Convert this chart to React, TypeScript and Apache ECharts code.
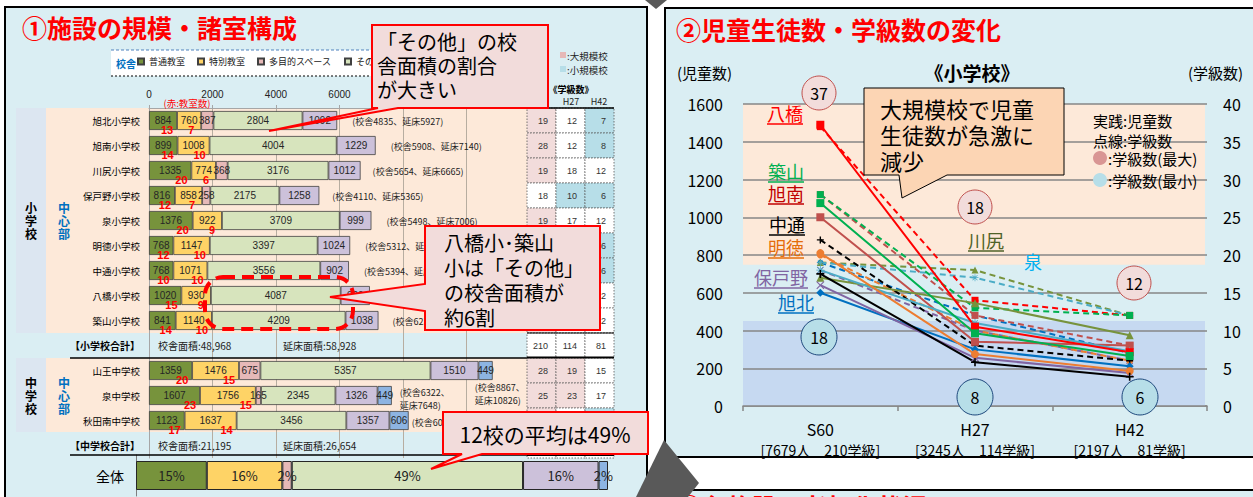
import React, { useEffect, useRef } from 'react';
import * as echarts from 'echarts';

const FONT = '"Noto Sans CJK JP", "Noto Sans", sans-serif';
const NUM_FONT = '"Liberation Sans", Arial, sans-serif';

// ---------- ① 施設の規模・諸室構成 ----------
const rowLabels = ['旭北小学校', '旭南小学校', '川尻小学校', '保戸野小学校', '泉小学校', '明徳小学校', '中通小学校', '八橋小学校', '築山小学校', '【小学校合計】', '山王中学校', '泉中学校', '秋田南中学校', '【中学校合計】'];
const roomTypes = ['普通教室', '特別教室', '多目的スペース', 'その他', '体育館', '武道場'];
const ordinaryRooms = [884, 899, 1335, 816, 1376, 768, 768, 1020, 841, null, 1359, 1607, 1123, null];
const specialRooms = [760, 1008, 774, 858, 922, 1147, 1071, 930, 1140, null, 1476, 1756, 1637, null];
const multiPurpose = [387, 0, 368, 258, 0, 0, 0, 0, 0, null, 675, 165, 0, null];
const otherRooms = [2804, 4004, 3176, 2175, 3709, 3397, 3556, 4087, 4209, null, 5357, 2345, 3456, null];
const gymArea = [1092, 1229, 1012, 1258, 999, 1024, 902, 920, 1038, null, 1510, 1326, 1357, null];
const budoArea = [0, 0, 0, 0, 0, 0, 0, 0, 0, null, 449, 449, 606, null];
const ordinaryCount = [13, 14, 20, 12, 20, 12, 10, 15, 14, null, 20, 23, 17, null];
const specialCount = [7, 10, 6, 7, 9, 10, 10, 9, 10, null, 15, 15, 14, null];
const schoolArea = [4835, 5908, 5654, 4110, 5498, 5312, 5394, 6037, 6231, 48968, 8867, 6322, 6006, 21195];
const floorArea = [5927, 7140, 6665, 5365, 7006, 6336, 6297, 6957, 7269, 58928, 10826, 7648, 8179, 26654];
const classesS60 = [19, 28, 19, 18, 19, 20, 22, 37, 28, 210, 28, 25, 22, 75];
const classesH27 = [12, 12, 18, 10, 17, 10, 8, 14, 13, 114, 19, 23, 18, 60];
const classesH42 = [7, 8, 12, 6, 12, 6, 6, 12, 12, 81, 15, 17, 11, 43];
const overallShare = [15, 16, 2, 49, 16, 2];

// ---------- ② 児童生徒数・学級数の変化 ----------
const surveyYears = ['S60', 'H27', 'H42'];
const yearSummary = ['[7679人　210学級]', '[3245人　114学級]', '[2197人　81学級]'];
const elemNames = ['旭北', '旭南', '川尻', '保戸野', '泉', '明徳', '中通', '八橋', '築山'];
const pupilsAsahikita = [600, 300, 210];
const pupilsAsahiminami = [1000, 340, 320];
const pupilsKawajiri = [680, 545, 375];
const pupilsHodono = [640, 255, 175];
const pupilsIzumi = [720, 440, 290];
const pupilsMeitoku = [810, 275, 185];
const pupilsNakadori = [700, 232, 155];
const pupilsYabase = [1490, 420, 285];
const pupilsTsukiyama = [1075, 385, 265];
const largeScaleBand = [18.7, 40];
const smallScaleBand = [0, 11.25];

// ---------- styles ----------
const roomColors = ['#77933c', '#fed366', '#e6b9b8', '#d7e4bd', '#ccc1da', '#8db4e2'];
const lineColors = ['#0070c0', '#c0504d', '#77933c', '#8064a2', '#4bacc6', '#ed7d31', '#000000', '#ff0000', '#00b050'];
const labelColors = ['#0070c0', '#c00000', '#4f6228', '#8064a2', '#00b0f0', '#e46c0a', '#000000', '#ff0000', '#00b050'];
const SYM_X = 'path://M1,0L5,4L9,0L10,1L6,5L10,9L9,10L5,6L1,10L0,9L4,5L0,1Z';
const SYM_PLUS = 'path://M4,0H6V4H10V6H6V10H4V6H0V4H4Z';
const SYM_STAR = 'path://M4.5,0H5.5V3.8L8.2,1.1L8.9,1.8L6.2,4.5H10V5.5H6.2L8.9,8.2L8.2,8.9L5.5,6.2V10H4.5V6.2L1.8,8.9L1.1,8.2L3.8,5.5H0V4.5H3.8L1.1,1.8L1.8,1.1L4.5,3.8Z';
const SYM_DASH = 'path://M0,4H10V6H0Z';
const symbols = ['diamond', 'rect', 'triangle', SYM_X, SYM_STAR, 'circle', SYM_PLUS, SYM_DASH, 'rect'];
const PANEL = '#daeef3';
const PEACH = '#fde9d9';
const SIDE = '#dce6f1';
const tableX = [527, 556, 585, 614];
const annoDx = [15, 15, 12, 13, 15, 15, 15, 15, 14, 0, -18, 8, 3, 0];
const annoDy = [1, 1, 1, 1, 1, 1, 1, 1, 1, 0, 23, 3.5, 1.5, 0];
const annoWrap = [false, false, false, false, false, false, false, false, false, false, true, true, false, false];

const fmt = (n: number) => n.toLocaleString('en-US');

function txt(x: number, y: number, text: string, size: number, fill = '#000', opts: any = {}) {
  const align = opts.align || 'left';
  return {
    type: 'text', x, y, z: opts.z ?? 30, silent: true,
    style: {
      text, fill,
      font: `${opts.bold ? 'bold ' : ''}${size}px ${FONT}`,
      align, textAlign: align, verticalAlign: 'middle', textVerticalAlign: 'middle',
      lineHeight: opts.lineHeight,
    },
  };
}
function rect(x: number, y: number, w: number, h: number, fill: string, z = -8, extra: any = {}) {
  return { type: 'rect', z, silent: true, shape: { x, y, width: w, height: h, r: extra.r || 0 }, style: { fill, stroke: extra.stroke || null, lineWidth: extra.lineWidth || 0, lineDash: extra.lineDash } };
}
function line(x1: number, y1: number, x2: number, y2: number, stroke: string, lw = 1, z = 20, dash?: number[]) {
  return { type: 'line', z, silent: true, shape: { x1, y1, x2, y2 }, style: { stroke, lineWidth: lw, lineDash: dash } };
}
function poly(points: number[][], fill: string, stroke: string | null, lw = 0, z = 50) {
  return { type: 'polygon', z, silent: true, shape: { points }, style: { fill, stroke, lineWidth: lw } };
}

function buildOption() {
  const areaArrays = [ordinaryRooms, specialRooms, multiPurpose, otherRooms, gymArea, budoArea];
  const series: any[] = [];

  // stacked area bars
  areaArrays.forEach((arr, k) => {
    series.push({
      type: 'bar', name: roomTypes[k], stack: 'area', xAxisIndex: 0, yAxisIndex: 0, barWidth: 19, z: 3,
      data: arr.map((v) => (v ? v : null)),
      itemStyle: { color: roomColors[k], borderColor: '#404040', borderWidth: 0.8 },
      label: { show: true, position: 'inside', fontSize: 10, color: '#262626', fontFamily: NUM_FONT },
    });
  });

  // red class-room counts
  const countItems: number[][] = [];
  rowLabels.forEach((_, i) => {
    if (ordinaryRooms[i] == null) return;
    countItems.push([ordinaryRooms[i] as number, i, ordinaryCount[i] as number]);
    countItems.push([(ordinaryRooms[i] as number) + (specialRooms[i] as number), i, specialCount[i] as number]);
  });
  series.push({
    type: 'custom', xAxisIndex: 0, yAxisIndex: 0, z: 6, silent: true, data: countItems,
    renderItem: (params: any, api: any) => {
      const p = api.coord([api.value(0), api.value(1)]);
      return {
        type: 'text', x: p[0] - 10, y: p[1] + 9,
        style: { text: String(api.value(2)), fill: '#ff0000', font: `bold 11px ${NUM_FONT}`, align: 'center', textAlign: 'center', verticalAlign: 'middle', textVerticalAlign: 'middle' },
      };
    },
  });

  // area annotations
  const annoItems = rowLabels.map((_, i) => {
    const end = areaArrays.reduce((s, arr) => s + ((arr[i] as number) || 0), 0);
    return [end, i];
  });
  series.push({
    type: 'custom', xAxisIndex: 0, yAxisIndex: 0, z: 6, silent: true, data: annoItems,
    renderItem: (params: any, api: any) => {
      const row = api.value(1);
      const p = api.coord([api.value(0), row]);
      const base = { fill: '#222', align: 'left', textAlign: 'left', verticalAlign: 'middle', textVerticalAlign: 'middle' };
      if (ordinaryRooms[row] == null) {
        return {
          type: 'group', children: [
            { type: 'text', x: p[0] + 9, y: p[1], style: { ...base, text: `校舎面積:${fmt(schoolArea[row])}`, font: `10px ${FONT}` } },
            { type: 'text', x: p[0] + 134, y: p[1], style: { ...base, text: `延床面積:${fmt(floorArea[row])}`, font: `10px ${FONT}` } },
          ],
        };
      }
      const t = annoWrap[row]
        ? `(校舎${schoolArea[row]}、\n延床${floorArea[row]})`
        : `(校舎${schoolArea[row]}、延床${floorArea[row]})`;
      return { type: 'text', x: p[0] + annoDx[row], y: p[1] + annoDy[row], style: { ...base, text: t, font: `9px ${FONT}`, lineHeight: 13 } };
    },
  });

  // class table
  series.push({
    type: 'custom', xAxisIndex: 0, yAxisIndex: 0, z: 7, silent: true,
    data: rowLabels.map((_, i) => [0, i, classesS60[i], classesH27[i], classesH42[i]]),
    renderItem: (params: any, api: any) => {
      const row = api.value(1);
      const c = api.coord([0, row]);
      const h = api.size([0, 1])[1];
      const top = c[1] - h / 2;
      const isTotal = ordinaryRooms[row] == null;
      const children: any[] = [];
      for (let k = 0; k < 3; k++) {
        const v = api.value(2 + k);
        const fill = isTotal ? '#ffffff' : v >= 19 ? '#f2dcdb' : v <= 11 ? '#b7dee8' : '#ffffff';
        children.push({ type: 'rect', shape: { x: tableX[k], y: top, width: tableX[k + 1] - tableX[k], height: h }, style: { fill, stroke: '#555', lineWidth: 0.8, lineDash: [1.5, 1.5] } });
        children.push({ type: 'text', x: tableX[k + 1] - 8, y: c[1], style: { text: String(v), fill: '#333', font: `9px ${NUM_FONT}`, align: 'right', textAlign: 'right', verticalAlign: 'middle', textVerticalAlign: 'middle' } });
      }
      return { type: 'group', children };
    },
  });

  // overall bar
  overallShare.forEach((v, k) => {
    series.push({
      type: 'bar', name: roomTypes[k], stack: 'overall', xAxisIndex: 1, yAxisIndex: 1, barWidth: 29, z: 3,
      data: [v],
      itemStyle: { color: roomColors[k], borderColor: '#262626', borderWidth: 1 },
      label: { show: true, position: 'inside', formatter: '{c}%', fontSize: 13, color: '#222', fontFamily: FONT },
    });
  });

  // bands behind line chart
  series.push({
    type: 'custom', xAxisIndex: 2, yAxisIndex: 3, z: 1, silent: true,
    data: [[0, largeScaleBand[0], largeScaleBand[1], 0], [0, smallScaleBand[0], smallScaleBand[1], 1]],
    renderItem: (params: any, api: any) => {
      const cs = params.coordSys;
      const a = api.coord([0, api.value(1)]);
      const b = api.coord([0, api.value(2)]);
      return { type: 'rect', shape: { x: cs.x, y: b[1], width: cs.width - 2, height: a[1] - b[1] }, style: { fill: api.value(3) ? '#c6d9f1' : PEACH } };
    },
  });

  const pupils = [pupilsAsahikita, pupilsAsahiminami, pupilsKawajiri, pupilsHodono, pupilsIzumi, pupilsMeitoku, pupilsNakadori, pupilsYabase, pupilsTsukiyama];
  elemNames.forEach((n, i) => {
    const color = lineColors[i];
    series.push({
      type: 'line', name: `${n}学級数`, xAxisIndex: 2, yAxisIndex: 3, z: 4,
      data: [classesS60[i], classesH27[i], classesH42[i]],
      symbol: symbols[i], symbolSize: 7,
      lineStyle: { color, width: 2, type: [6, 4] }, itemStyle: { color },
    });
  });
  elemNames.forEach((n, i) => {
    const color = lineColors[i];
    series.push({
      type: 'line', name: `${n}児童数`, xAxisIndex: 2, yAxisIndex: 2, z: 5,
      data: pupils[i],
      symbol: symbols[i], symbolSize: 8,
      lineStyle: { color, width: 2 }, itemStyle: { color },
    });
  });

  // ---------- graphics ----------
  const g: any[] = [];
  g.push(rect(5, 7, 642, 500, PANEL, -10, { stroke: '#000', lineWidth: 2 }));
  g.push(rect(665, 8, 600, 449, PANEL, -10, { stroke: '#000', lineWidth: 2 }));
  g.push(rect(665, 490, 600, 30, PANEL, -10, { stroke: '#000', lineWidth: 2 }));
  g.push(poly([[645, 0], [667, 0], [656, 9]], '#595959', null, 0, 60));
  g.push(poly([[636, 497], [664, 440], [699, 483], [688, 497]], '#595959', null, 0, 60));

  // left panel
  g.push(txt(22, 27, '①施設の規模・諸室構成', 25, '#ff0000', { bold: true }));
  g.push(rect(111, 50, 262, 26, '#ffffff', -6));
  g.push(line(111, 50, 373, 50, '#4f81bd', 1, -5, [3, 2]));
  g.push(line(111, 76, 373, 76, '#000', 1, -5, [2, 2]));
  g.push(txt(116, 63, '校舎', 10, '#0070c0', { bold: true }));
  g.push(rect(46, 108, 481, 225, PEACH));
  g.push(rect(46, 358, 481, 74, PEACH));
  g.push(rect(16, 108, 30, 225, SIDE));
  g.push(rect(16, 358, 30, 74, SIDE));
  g.push(txt(31, 220, '小\n学\n校', 12, '#000', { bold: true, align: 'center', lineHeight: 13 }));
  g.push(txt(64, 220, '中\n心\n部', 12, '#0070c0', { bold: true, align: 'center', lineHeight: 13 }));
  g.push(txt(31, 395, '中\n学\n校', 12, '#000', { bold: true, align: 'center', lineHeight: 13 }));
  g.push(txt(64, 395, '中\n心\n部', 12, '#0070c0', { bold: true, align: 'center', lineHeight: 13 }));
  g.push(txt(187, 103, '(赤:教室数)', 9.5, '#ff0000', { align: 'center' }));
  g.push(line(70, 358, 527, 358, '#000', 1.5));
  g.push(line(70, 455, 527, 455, '#000', 1.5));
  // table header & legend
  g.push(rect(560, 52, 6, 6, '#e6b8b7', 20));
  g.push(txt(567, 56, ':大規模校', 9.5, '#222'));
  g.push(rect(560, 66, 6, 6, '#b7dee8', 20));
  g.push(txt(567, 70, ':小規模校', 9.5, '#222'));
  g.push(txt(571, 89, '《学級数》', 9, '#000', { bold: true, align: 'center' }));
  g.push(txt(541, 101, 'S60', 9, '#222', { align: 'center' }));
  g.push(txt(571, 101, 'H27', 9, '#222', { align: 'center' }));
  g.push(txt(599, 101, 'H42', 9, '#222', { align: 'center' }));
  g.push(line(527, 108, 614, 108, '#000', 1.5));
  g.push(line(527, 333, 614, 333, '#000', 1));
  g.push(line(527, 357.5, 614, 357.5, '#000', 2));
  g.push(line(527, 455, 614, 455, '#000', 2));
  // dashed highlight
  g.push({ type: 'rect', z: 40, silent: true, shape: { x: 205, y: 277, width: 148, height: 52, r: 18 }, style: { fill: 'none', stroke: '#ff0000', lineWidth: 4, lineDash: [12, 7] } });
  // callouts
  g.push(poly([[372, 25], [548, 25], [548, 108], [398, 108], [269, 131], [378, 108], [372, 108]], '#f2dcdb', '#ff0000', 2));
  g.push(txt(377, 41, '「その他」の校', 20, '#000', { z: 55 }));
  g.push(txt(377, 65, '舎面積の割合', 20, '#000', { z: 55 }));
  g.push(txt(377, 89, 'が大きい', 20, '#000', { z: 55 }));
  g.push(poly([[425, 226], [600, 226], [600, 330], [425, 330], [425, 311], [330, 297], [425, 284]], '#f2dcdb', '#ff0000', 2));
  g.push(txt(444, 242, '八橋小･築山', 20, '#000', { z: 55 }));
  g.push(txt(444, 267, '小は「その他」', 20, '#000', { z: 55 }));
  g.push(txt(444, 292, 'の校舎面積が', 20, '#000', { z: 55 }));
  g.push(txt(444, 317, '約6割', 20, '#000', { z: 55 }));
  g.push(poly([[443, 412], [648, 412], [648, 454], [482, 454], [431, 469], [462, 454], [443, 454]], '#f2dcdb', '#ff0000', 2));
  g.push(txt(545, 434, '12校の平均は49%', 21, '#000', { z: 55, align: 'center' }));

  // right panel
  g.push(txt(676, 29, '②児童生徒数・学級数の変化', 25, '#ff0000', { bold: true }));
  g.push(txt(677, 506, '③各施設の老朽化状況', 25, '#ff0000', { bold: true, z: 5 }));
  g.push(txt(677, 72, '(児童数)', 15, '#000'));
  g.push(txt(1188, 72, '(学級数)', 15, '#000'));
  g.push(txt(972, 72, '《小学校》', 19, '#000', { bold: true, align: 'center' }));
  g.push(txt(1093, 120, '実践:児童数', 15, '#000'));
  g.push(txt(1093, 140, '点線:学級数', 15, '#000'));
  g.push({ type: 'circle', z: 30, silent: true, shape: { cx: 1100, cy: 158, r: 7 }, style: { fill: '#d99694' } });
  g.push(txt(1108, 158, ':学級数(最大)', 15, '#000'));
  g.push({ type: 'circle', z: 30, silent: true, shape: { cx: 1100, cy: 180, r: 7 }, style: { fill: '#b7dee8' } });
  g.push(txt(1108, 180, ':学級数(最小)', 15, '#000'));

  // max/min class circles
  const elemIdx = elemNames.map((_, i) => i);
  const yearCols = [classesS60, classesH27, classesH42];
  const maxPos = [[819, 93], [975, 207], [1134, 283]];
  const minPos = [[819, 337], [975, 397], [1140, 397]];
  yearCols.forEach((col, k) => {
    const vals = elemIdx.map((i) => col[i]);
    const mx = Math.max(...vals);
    const mn = Math.min(...vals);
    g.push({ type: 'circle', z: 30, silent: true, shape: { cx: maxPos[k][0], cy: maxPos[k][1], r: 17 }, style: { fill: '#f2dcdb', stroke: '#c0504d', lineWidth: 1 } });
    g.push(txt(maxPos[k][0], maxPos[k][1], String(mx), 16, '#000', { align: 'center', z: 31 }));
    g.push({ type: 'circle', z: 30, silent: true, shape: { cx: minPos[k][0], cy: minPos[k][1], r: 18 }, style: { fill: '#b7dee8', stroke: '#1f497d', lineWidth: 1 } });
    g.push(txt(minPos[k][0], minPos[k][1], String(mn), 16, '#000', { align: 'center', z: 31 }));
  });

  // school labels on the line chart
  const labelPos: number[][] = [[796, 302], [786, 193], [986, 240], [781, 277], [1033, 261], [786, 247], [787, 224], [785, 113], [786, 171]];
  elemNames.forEach((n, i) => {
    const [x, y] = labelPos[i];
    g.push(txt(x, y, n, 18, labelColors[i], { align: 'center', z: 32 }));
    if (n !== '泉') {
      const w = 18 * n.length;
      g.push(line(x - w / 2, y + 11, x + w / 2, y + 11, labelColors[i], 1.5, 32));
    }
  });

  // right callout
  g.push(poly([[864, 88], [1064, 88], [1064, 175], [947, 175], [902, 198], [899, 175], [864, 175]], '#fcd5b4', '#000', 1));
  g.push(txt(880, 108, '大規模校で児童', 22, '#000', { z: 55 }));
  g.push(txt(880, 134, '生徒数が急激に', 22, '#000', { z: 55 }));
  g.push(txt(880, 160, '減少', 22, '#000', { z: 55 }));

  return {
    animation: false,
    textStyle: { fontFamily: FONT },
    legend: {
      data: roomTypes.slice(0, 4), left: 137, top: 57, padding: 0, itemWidth: 6, itemHeight: 6, itemGap: 12,
      icon: 'rect', selectedMode: false, textStyle: { fontSize: 9, color: '#222', fontFamily: FONT }, z: 10,
    },
    grid: [
      { left: 149, top: 108, width: 377.8, height: 350 },
      { left: 136, top: 455, width: 472, height: 41 },
      { left: 743, top: 104, width: 464, height: 302 },
    ],
    xAxis: [
      {
        type: 'value', gridIndex: 0, position: 'top', min: 0, max: 11900, interval: 2000,
        axisLine: { show: true, lineStyle: { color: '#a6a6a6' } },
        axisTick: { show: true, length: 3, lineStyle: { color: '#a6a6a6' } },
        axisLabel: { fontSize: 10, color: '#222', margin: 9, fontFamily: NUM_FONT, formatter: (v: number) => (v % 2000 === 0 && v <= 6000 ? String(v) : '') },
        splitLine: { show: true, lineStyle: { color: '#b7ada0', width: 1 } },
      },
      { type: 'value', gridIndex: 1, min: 0, max: 100, show: false },
      {
        type: 'category', gridIndex: 2, data: surveyYears,
        axisLine: { lineStyle: { color: '#868686', width: 1.5 } },
        axisTick: { show: true, length: 5, lineStyle: { color: '#868686', width: 1.5 } },
        axisLabel: {
          margin: 12, interval: 0,
          formatter: (v: string, i: number) => `{a|${v}}\n{b|${yearSummary[i]}}`,
          rich: { a: { fontSize: 16, lineHeight: 22, color: '#000' }, b: { fontSize: 14, lineHeight: 20, color: '#000' } },
        },
      },
    ],
    yAxis: [
      {
        type: 'category', gridIndex: 0, data: rowLabels, inverse: true,
        axisLine: { show: true, lineStyle: { color: '#a6a6a6' } }, axisTick: { show: false },
        axisLabel: {
          fontSize: 9.5, color: '#000', margin: 9, interval: 0,
          formatter: (v: string) => (v.startsWith('【') ? `{b|${v}}` : v),
          rich: { b: { fontSize: 10, fontWeight: 'bold', color: '#000' } },
        },
      },
      {
        type: 'category', gridIndex: 1, data: ['全体'],
        axisLine: { show: true, lineStyle: { color: '#7f7f7f' } }, axisTick: { show: false },
        axisLabel: { fontSize: 14, color: '#000', margin: 12 },
      },
      {
        type: 'value', gridIndex: 2, min: 0, max: 1600, interval: 200, z: 1.5,
        axisLine: { show: false }, axisTick: { show: false },
        axisLabel: { fontSize: 16, color: '#000', margin: 20, formatter: (v: number) => String(v) },
        splitLine: { show: true, lineStyle: { color: '#868686', width: 1.5 } },
      },
      {
        type: 'value', gridIndex: 2, position: 'right', min: 0, max: 40, interval: 5,
        axisLine: { show: false }, axisTick: { show: false }, splitLine: { show: false },
        axisLabel: { fontSize: 16, color: '#000', margin: 16, formatter: (v: number) => String(v) },
      },
    ],
    graphic: { elements: g },
    series,
  };
}

export default function App() {
  const ref = useRef<HTMLDivElement>(null);
  useEffect(() => {
    if (!ref.current) return;
    const chart = echarts.init(ref.current, undefined, { renderer: 'svg' });
    chart.setOption(buildOption() as any);
    return () => chart.dispose();
  }, []);
  return <div ref={ref} style={{ position: 'fixed', left: 0, top: 0, width: 1253, height: 497, background: '#fff' }} />;
}
